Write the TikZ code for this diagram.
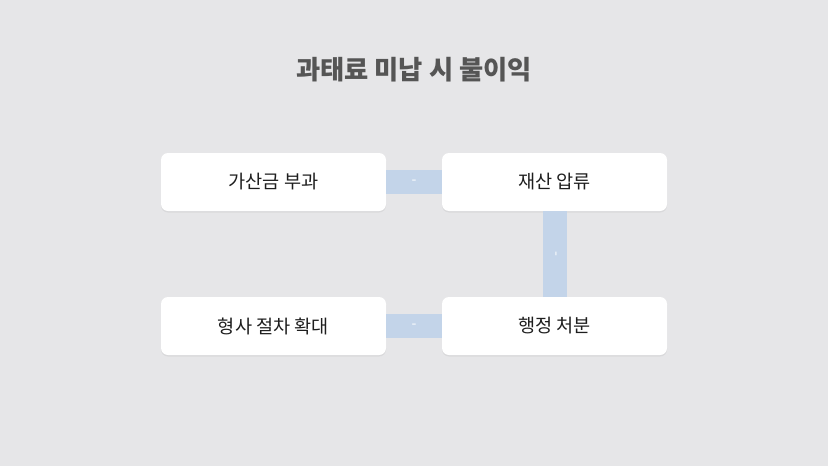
\documentclass[tikz,border=0pt]{standalone}
\usepackage{fontspec}
\setmainfont{Noto Sans CJK KR}
\usetikzlibrary{shadows}
\definecolor{bg}{HTML}{E6E6E8}
\definecolor{bar}{HTML}{C3D4E9}
\definecolor{ttl}{HTML}{555555}
\definecolor{txt}{HTML}{1E1E1E}
\tikzset{bx/.style = {rectangle, rounded corners=7pt, fill=white, minimum width=225pt, minimum height=58pt, inner sep=0pt,
             text=txt, font=\fontsize{18.6}{20}\selectfont, drop shadow={opacity=0.12, shadow xshift=0pt, shadow yshift=-1.5pt}},
           ln/.style = {draw=bar, line width=24pt},
           mk/.style = {midway, sloped, text=white, inner sep=0pt, font=\fontsize{14}{14}\selectfont}}

\begin{document}
\begin{tikzpicture}[x=1pt, y=-1pt]
    \fill[bg] (0,0) rectangle (828,466);
    \useasboundingbox (0,0) rectangle (828,466);
    \node[font=\fontsize{26.3}{28}\selectfont\bfseries, text=ttl] (title) at (414,70) {과태료 미납 시 불이익};
    \node[bx] (gasan) at (273.5,182) {가산금 부과}; \node[bx] (jaesan) at (554.5,182) {재산 압류};
    \node[bx] (hyeong) at (273.5,326) {형사 절차 확대}; \node[bx] (cheobun) at (554.5,326) {행정 처분};
    \draw[ln] (gasan) -- node[mk] {-} (jaesan);
    \draw[ln] (jaesan) -- node[mk] {-} (cheobun);
    \draw[ln] (cheobun) -- node[mk] {-} (hyeong);
\end{tikzpicture}
\end{document}
